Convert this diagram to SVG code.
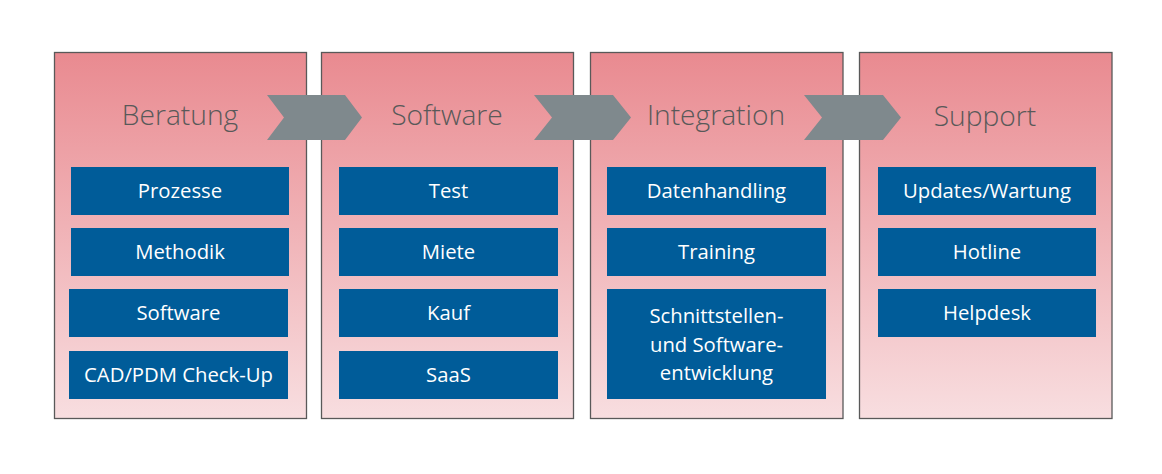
<svg xmlns="http://www.w3.org/2000/svg" width="1162" height="474" viewBox="0 0 1162 474">
<defs>
<linearGradient id="pg" x1="0" y1="0" x2="0" y2="1">
<stop offset="0" stop-color="#E98A90"/>
<stop offset="1" stop-color="#F8DEE0"/>
</linearGradient>
<style>
.panel{fill:url(#pg);stroke:#595959;stroke-width:1.3}
.title{font-family:"Open Sans","Liberation Sans",sans-serif;font-size:28.2px;font-weight:300;fill:#595959;text-anchor:middle}
.box{fill:#005C99}
.lbl{font-family:"Open Sans","Liberation Sans",sans-serif;font-size:20.3px;fill:#FFFFFF;text-anchor:middle}
.arrow{fill:#7F898D}
</style>
</defs>
<rect width="1162" height="474" fill="#FFFFFF"/>
<g id="panel-beratung">
<rect class="panel" x="54.5" y="52.5" width="252" height="366"/>
<text class="title" x="180" y="125">Beratung</text>
<g id="b-prozesse"><rect class="box" x="71" y="167" width="218" height="48"/><text class="lbl" x="180" y="198">Prozesse</text></g>
<g id="b-methodik"><rect class="box" x="71" y="228" width="218" height="48"/><text class="lbl" x="180" y="259">Methodik</text></g>
<g id="b-software"><rect class="box" x="69" y="289" width="219" height="48"/><text class="lbl" x="178.5" y="320">Software</text></g>
<g id="b-cad"><rect class="box" x="69" y="351" width="219" height="48"/><text class="lbl" x="178.5" y="382">CAD/PDM Check-Up</text></g>
</g>
<g id="panel-software">
<rect class="panel" x="321.5" y="52.5" width="252" height="366"/>
<text class="title" x="447" y="125">Software</text>
<g id="s-test"><rect class="box" x="339" y="167" width="219" height="48"/><text class="lbl" x="448.5" y="198">Test</text></g>
<g id="s-miete"><rect class="box" x="339" y="228" width="219" height="48"/><text class="lbl" x="448.5" y="259">Miete</text></g>
<g id="s-kauf"><rect class="box" x="339" y="289" width="219" height="48"/><text class="lbl" x="448.5" y="320">Kauf</text></g>
<g id="s-saas"><rect class="box" x="339" y="351" width="219" height="48"/><text class="lbl" x="448.5" y="382">SaaS</text></g>
</g>
<g id="panel-integration">
<rect class="panel" x="590.5" y="52.5" width="252.5" height="366"/>
<text class="title" x="716" y="125">Integration</text>
<g id="i-daten"><rect class="box" x="607" y="167" width="219" height="48"/><text class="lbl" x="716.5" y="198">Datenhandling</text></g>
<g id="i-training"><rect class="box" x="607" y="228" width="219" height="48"/><text class="lbl" x="716.5" y="259">Training</text></g>
<g id="i-schnitt"><rect class="box" x="607" y="289" width="219" height="110"/>
<text class="lbl" x="716.5" y="323">Schnittstellen-</text>
<text class="lbl" x="716.5" y="352">und Software-</text>
<text class="lbl" x="716.5" y="380">entwicklung</text></g>
</g>
<g id="panel-support">
<rect class="panel" x="859.5" y="52.5" width="252.5" height="366"/>
<text class="title" x="985" y="126">Support</text>
<g id="p-updates"><rect class="box" x="878" y="167" width="218" height="48"/><text class="lbl" x="987" y="198">Updates/Wartung</text></g>
<g id="p-hotline"><rect class="box" x="878" y="228" width="218" height="48"/><text class="lbl" x="987" y="259">Hotline</text></g>
<g id="p-helpdesk"><rect class="box" x="878" y="289" width="218" height="48"/><text class="lbl" x="987" y="320">Helpdesk</text></g>
</g>
<g id="connectors">
<polygon class="arrow" points="267,95 345,95 362,117.5 345,140 267,140 284,117.5"/>
<polygon class="arrow" points="534,95 613,95 631,117.5 613,140 534,140 552,117.5"/>
<polygon class="arrow" points="804,95 883,95 901,117.5 883,140 804,140 822,117.5"/>
</g>
</svg>
